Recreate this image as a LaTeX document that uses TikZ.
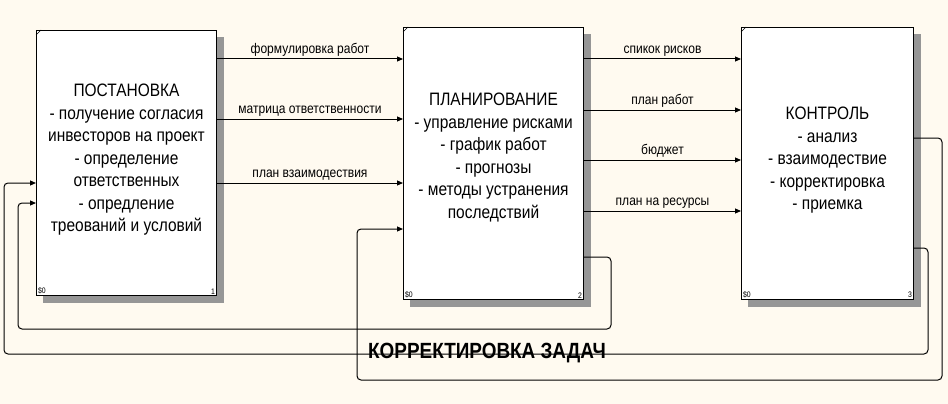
\documentclass[tikz,border=0pt]{standalone}
\usepackage{fontspec}
\setmainfont[FakeStretch=0.86]{Liberation Sans}
\usepackage{tikz}
\usetikzlibrary{arrows.meta,positioning,backgrounds,calc}
\definecolor{idbg}{RGB}{255,250,240}
\definecolor{idshadow}{RGB}{150,150,150}

\begin{document}
\begin{tikzpicture}[
  x=1pt, y=-1pt,
  line width=1pt,
  box/.style={draw, fill=white, anchor=north west, inner sep=0pt},
  boxtext/.style={align=center, font=\fontsize{18}{22.5}\selectfont, inner sep=0pt},
  lbl/.style={font=\fontsize{14}{17}\selectfont, above, inner sep=2pt},
  num/.style={font=\fontsize{8}{8}\selectfont, inner sep=1.5pt},
  arr/.style={-{Triangle[length=6pt,width=5pt]}},
  fb/.style={rounded corners=4pt, -{Triangle[length=6pt,width=5pt]}}
]
\useasboundingbox (0,0) rectangle (948,404);

% blocks
\node[box, minimum width=180pt, minimum height=265pt] (post) at (36,30) {};
\node[box, minimum width=180pt, minimum height=272pt] (plan) at (403,27) {};
\node[box, minimum width=172pt, minimum height=272pt] (kontr) at (741,27) {};

\begin{scope}[on background layer]
  \fill[idbg] (0,0) rectangle (948,404);
  \foreach \b in {post,plan,kontr}
    \fill[idshadow] ($(\b.north west)+(7,7)$) rectangle ($(\b.south east)+(7,7)$);
\end{scope}

\node[boxtext] (posttxt) at ([yshift=3pt]post.center) {ПОСТАНОВКА\\- получение согласия\\инвесторов на проект\\- определение\\ответственных\\- опредление\\треований и условий};
\node[boxtext] (plantxt) at ([yshift=6pt]plan.center) {ПЛАНИРОВАНИЕ\\- управление рисками\\- график работ\\- прогнозы\\- методы устранения\\последствий};
\node[boxtext] (kontrtxt) at ([yshift=3pt]kontr.center) {КОНТРОЛЬ\\- анализ\\- взаимодествие\\- корректировка\\- приемка};

\foreach \b/\n in {post/1, plan/2, kontr/3} {
  \draw[line width=0.6pt] (\b.north west) ++(0,5) -- ++(5,-5);
  \node[num, anchor=south west] (\b-s) at (\b.south west) {\$0};
  \node[num, anchor=south east] (\b-n) at (\b.south east) {\n};
}

% outputs
\draw[arr] (post.east |- 0,59) -- node[lbl] {формулировка работ} (plan.west |- 0,59);
\draw[arr] (post.east |- 0,119) -- node[lbl] {матрица ответственности} (plan.west |- 0,119);
\draw[arr] (post.east |- 0,183) -- node[lbl] {план взаимодествия} (plan.west |- 0,183);

\draw[arr] (plan.east |- 0,59) -- node[lbl] {спикок рисков} (kontr.west |- 0,59);
\draw[arr] (plan.east |- 0,110) -- node[lbl] {план работ} (kontr.west |- 0,110);
\draw[arr] (plan.east |- 0,160) -- node[lbl] {бюджет} (kontr.west |- 0,160);
\draw[arr] (plan.east |- 0,211) -- node[lbl] {план на ресурсы} (kontr.west |- 0,211);

% feedback
\draw[fb] (plan.east |- 0,257) -- (611,257) -- (611,329) -- (18,329) -- (18,203) -- (post.west |- 0,203);
\draw[fb] (kontr.east |- 0,138) -- (942,138) -- (942,380) -- (357,380) -- (357,229) -- (plan.west |- 0,229);
\draw[fb] (kontr.east |- 0,248) -- (928,248) -- (928,354) -- (4,354) -- (4,183) -- (post.west |- 0,183);
\node[font=\fontsize{22}{24}\selectfont\bfseries, anchor=base, inner sep=0pt] (korr) at (487,358) {КОРРЕКТИРОВКА ЗАДАЧ};
\end{tikzpicture}
\end{document}
